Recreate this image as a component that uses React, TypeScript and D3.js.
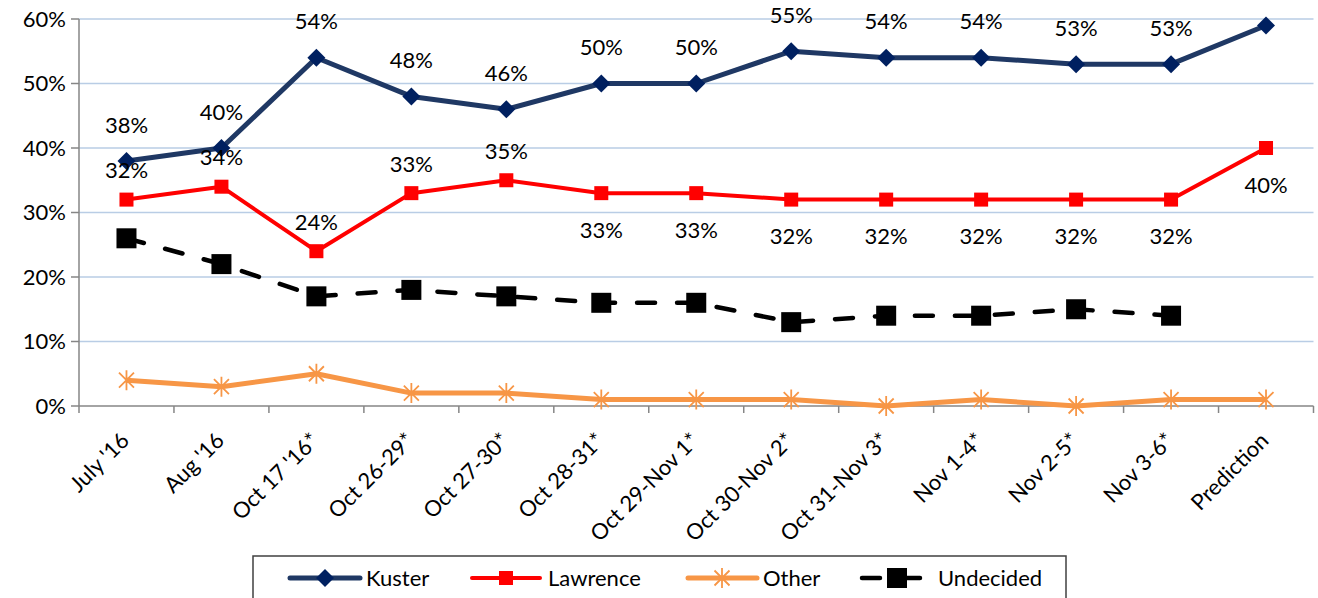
import React from "react";
import * as d3 from "d3";

const categories = [
  "July '16", "Aug '16", "Oct 17 '16*", "Oct 26-29*", "Oct 27-30*", "Oct 28-31*",
  "Oct 29-Nov 1*", "Oct 30-Nov 2*", "Oct 31-Nov 3*", "Nov 1-4*", "Nov 2-5*", "Nov 3-6*", "Prediction",
];
const kuster = [38, 40, 54, 48, 46, 50, 50, 55, 54, 54, 53, 53, 59];
const kusterLabels = ["38%", "40%", "54%", "48%", "46%", "50%", "50%", "55%", "54%", "54%", "53%", "53%", ""];
const lawrence = [32, 34, 24, 33, 35, 33, 33, 32, 32, 32, 32, 32, 40];
const lawrenceLabels = ["32%", "34%", "24%", "33%", "35%", "33%", "33%", "32%", "32%", "32%", "32%", "32%", "40%"];
const lawrenceLabelBelow = [false, false, false, false, false, true, true, true, true, true, true, true, true];
const other = [4, 3, 5, 2, 2, 1, 1, 1, 0, 1, 0, 1, 1];
const undecided = [26, 22, 17, 18, 17, 16, 16, 13, 14, 14, 15, 14];
const yTicks = [0, 10, 20, 30, 40, 50, 60];

const FONT = "Lato, 'Open Sans', sans-serif";
const FS = 22;
const C_KUSTER = "#1f3864";
const C_KUSTER_M = "#002060";
const C_LAW = "#ff0000";
const C_OTHER = "#f79646";

const W = 1318, H = 598;
const L = 79, R = 1313.5, T = 19, B = 406;

function Diamond({ x, y, s, fill }: { x: number; y: number; s: number; fill: string }) {
  return <path d={`M${x},${y - s}L${x + s},${y}L${x},${y + s}L${x - s},${y}Z`} fill={fill} />;
}
function Square({ x, y, s, fill }: { x: number; y: number; s: number; fill: string }) {
  return <rect x={x - s} y={y - s} width={2 * s} height={2 * s} fill={fill} />;
}
function Star({ x, y, s, stroke }: { x: number; y: number; s: number; stroke: string }) {
  const d = s * 0.75;
  return (
    <path
      d={`M${x},${y - s}L${x},${y + s}M${x - d},${y - d}L${x + d},${y + d}M${x - d},${y + d}L${x + d},${y - d}`}
      stroke={stroke}
      strokeWidth={1.8}
      fill="none"
    />
  );
}

export default function App() {
  const x = d3.scaleBand<string>().domain(categories).range([L, R]);
  const cx = (i: number) => (x(categories[i]) as number) + x.bandwidth() / 2;
  const y = d3.scaleLinear().domain([0, 60]).range([B, T]);
  const line = d3.line<number>().x((_, i) => cx(i)).y((v) => y(v));

  const boundaries = categories.map((c) => x(c) as number).concat([R]);

  return (
    <svg width={W} height={H} style={{ position: "absolute", left: 0, top: 0, background: "#fff" }} fontFamily={FONT}>
      {/* gridlines */}
      {yTicks.filter((t) => t > 0).map((t) => (
        <line key={t} x1={L} x2={R} y1={y(t)} y2={y(t)} stroke="#b9cde5" strokeWidth={1.5} />
      ))}
      {/* y axis */}
      <line x1={L} x2={L} y1={T} y2={B} stroke="#868686" strokeWidth={1.5} />
      {yTicks.map((t) => (
        <g key={t}>
          <line x1={L - 8} x2={L} y1={y(t)} y2={y(t)} stroke="#868686" strokeWidth={1.5} />
          <text x={L - 13} y={y(t)} dy="0.35em" textAnchor="end" fontSize={FS} fill="#000">
            {t}%
          </text>
        </g>
      ))}
      {/* x axis */}
      <line x1={L} x2={R} y1={B} y2={B} stroke="#868686" strokeWidth={1.5} />
      {boundaries.map((b, i) => (
        <line key={i} x1={b} x2={b} y1={B} y2={B + 7} stroke="#868686" strokeWidth={1.5} />
      ))}
      {categories.map((c, i) => (
        <text
          key={c}
          transform={`translate(${cx(i) + 4},${B + 36}) rotate(-45)`}
          textAnchor="end"
          fontSize={FS}
          fill="#000"
        >
          {c}
        </text>
      ))}

      {/* Other */}
      <path d={line(other) || ""} fill="none" stroke={C_OTHER} strokeWidth={5} strokeLinejoin="round" />
      {other.map((v, i) => (
        <Star key={i} x={cx(i)} y={y(v)} s={10} stroke={C_OTHER} />
      ))}

      {/* Undecided */}
      <path
        d={line(undecided) || ""}
        fill="none"
        stroke="#000"
        strokeWidth={4.5}
        strokeDasharray="18 22"
        strokeLinecap="round"
      />
      {undecided.map((v, i) => (
        <Square key={i} x={cx(i)} y={y(v)} s={10} fill="#000" />
      ))}

      {/* Lawrence */}
      <path d={line(lawrence) || ""} fill="none" stroke={C_LAW} strokeWidth={4} strokeLinejoin="round" />
      {lawrence.map((v, i) => (
        <Square key={i} x={cx(i)} y={y(v)} s={7} fill={C_LAW} />
      ))}

      {/* Kuster */}
      <path d={line(kuster) || ""} fill="none" stroke={C_KUSTER} strokeWidth={5} strokeLinejoin="round" />
      {kuster.map((v, i) => (
        <Diamond key={i} x={cx(i)} y={y(v)} s={9} fill={C_KUSTER_M} />
      ))}

      {/* labels */}
      {kuster.map((v, i) =>
        kusterLabels[i] ? (
          <text key={i} x={cx(i)} y={y(v) - 36} dy="0.35em" textAnchor="middle" fontSize={FS} fill="#000">
            {kusterLabels[i]}
          </text>
        ) : null
      )}
      {lawrence.map((v, i) => (
        <text
          key={i}
          x={cx(i)}
          y={y(v) + (lawrenceLabelBelow[i] ? 37 : -29)}
          dy="0.35em"
          textAnchor="middle"
          fontSize={FS}
          fill="#000"
        >
          {lawrenceLabels[i]}
        </text>
      ))}

      {/* legend */}
      <rect x={253} y={556} width={813} height={60} fill="#fff" stroke="#404040" strokeWidth={1.5} />
      <g fontSize={FS} fill="#000">
        <line x1={290} x2={360} y1={578} y2={578} stroke={C_KUSTER} strokeWidth={5} strokeLinecap="round" />
        <Diamond x={325} y={578} s={9} fill={C_KUSTER_M} />
        <text x={366} y={578} dy="0.35em">Kuster</text>

        <line x1={472} x2={540} y1={578} y2={578} stroke={C_LAW} strokeWidth={4} strokeLinecap="round" />
        <Square x={506} y={578} s={7} fill={C_LAW} />
        <text x={548} y={578} dy="0.35em">Lawrence</text>

        <line x1={688} x2={757} y1={578} y2={578} stroke={C_OTHER} strokeWidth={5} strokeLinecap="round" />
        <Star x={722} y={578} s={10} stroke={C_OTHER} />
        <text x={763} y={578} dy="0.35em">Other</text>

        <line x1={862} x2={925} y1={578} y2={578} stroke="#000" strokeWidth={4.5} strokeLinecap="round" strokeDasharray="18 22" />
        <Square x={897} y={578} s={10} fill="#000" />
        <text x={938} y={578} dy="0.35em">Undecided</text>
      </g>
    </svg>
  );
}
